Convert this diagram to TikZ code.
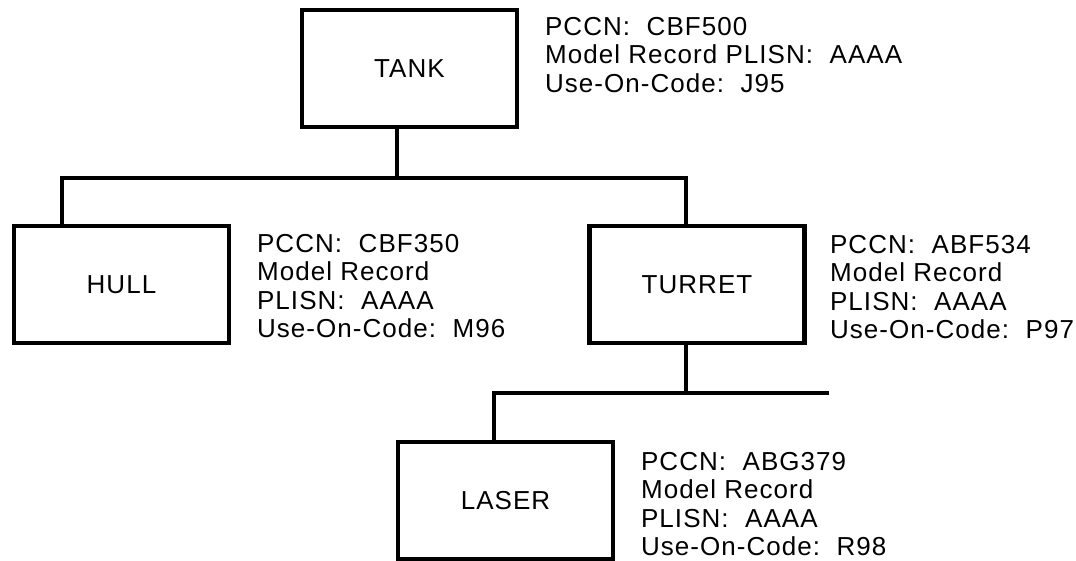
\documentclass[tikz,border=0pt]{standalone}
\usepackage{fontspec}
\setmainfont{Liberation Sans}[LetterSpace=4]
\usetikzlibrary{calc}
\tikzset{
    tree/.style={x=0.75pt, y=-0.75pt, line width=3.2pt, font=\fontsize{19.5}{21.4}\selectfont},
    item/.style={draw, line width=3.4pt, minimum width=161pt, minimum height=88pt, inner sep=0pt},
    % part data printed next to each box
    info/.style={anchor=north west, align=left, inner sep=0pt},
}
\begin{document}
\begin{tikzpicture}[tree]
    \useasboundingbox (0,0) rectangle (1076,561);

    \node[item] (tank)   at (409.5,68.5)  {TANK};
    \node[item] (hull)   at (121.5,284.5) {HULL};
    \node[item] (turret) at (697,284.5)   {TURRET};
    \node[item] (laser)  at (505.5,500.5) {LASER};

    \node[info] (tankinfo)   at (543,15)  {PCCN:\ \ CBF500\\Model Record PLISN:\ \ AAAA\\Use-On-Code:\ \ J95};
    \node[info] (hullinfo)   at (255,232) {PCCN:\ \ CBF350\\Model Record\\PLISN:\ \ AAAA\\Use-On-Code:\ \ M96};
    \node[info] (turretinfo) at (828,233) {PCCN:\ \ ABF534\\Model Record\\PLISN:\ \ AAAA\\Use-On-Code:\ \ P97};
    \node[info] (laserinfo)  at (639,450) {PCCN:\ \ ABG379\\Model Record\\PLISN:\ \ AAAA\\Use-On-Code:\ \ R98};

    \coordinate (top)    at (397,178);
    \coordinate (hullup) at (62,178);
    \coordinate (turup)  at (686,178);
    \coordinate (low)    at (686,393);
    \coordinate (laserup) at (494,393);
    \coordinate (lowend) at (829,393);

    % first level
    \draw (tank.south -| top) -- (top);
    \draw (hull.north -| hullup) -- (hullup) -- (turup) -- (turret.north -| turup);

    % second level
    \draw (turret.south -| low) -- (low);
    \draw (laser.north -| laserup) -- (laserup) -- (lowend);
\end{tikzpicture}
\end{document}
